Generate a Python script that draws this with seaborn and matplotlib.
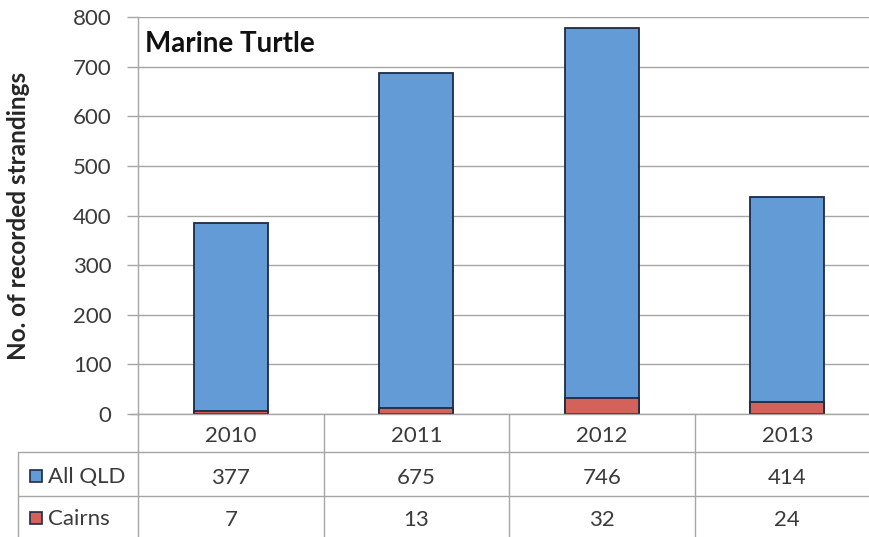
import matplotlib
matplotlib.use("Agg")
import matplotlib.pyplot as plt
import matplotlib.transforms as mtransforms
from matplotlib.patches import Rectangle
import seaborn as sns
import pandas as pd

# Stranding records per year
years = ["2010", "2011", "2012", "2013"]
all_qld = [377, 675, 746, 414]
cairns = [7, 13, 32, 24]
series_names = ["All QLD", "Cairns"]
yticks = [0, 100, 200, 300, 400, 500, 600, 700, 800]

BLUE = "#639bd6"
RED = "#d3625b"
EDGE = "#1e2b45"
GRID = "#a6a6a6"
TEXT = "#3a3a3a"

sns.set_theme(style="white")
plt.rcParams["font.family"] = ["Lato", "DejaVu Sans"]

W, H = 869, 537
fig = plt.figure(figsize=(W / 100, H / 100), dpi=100)

# axes geometry in pixels (plot extends past the right edge)
x0, y_top, y_zero, col_w = 138, 17, 414, 185.5
ax = fig.add_axes([x0 / W, 1 - y_zero / H, 4 * col_w / W, (y_zero - y_top) / H])

df = pd.DataFrame({"year": years, "qld": all_qld, "cairns": cairns})
df["total"] = df["qld"] + df["cairns"]

# stacked look: total in blue, Cairns portion over it in red
sns.barplot(data=df, x="year", y="total", color=BLUE, width=0.4,
            edgecolor=EDGE, linewidth=1.3, saturation=1, ax=ax, zorder=3)
sns.barplot(data=df, x="year", y="cairns", color=RED, width=0.4,
            edgecolor=EDGE, linewidth=1.3, saturation=1, ax=ax, zorder=4)

ax.set_xlim(-0.5, 3.5)
ax.set_ylim(0, 800)
ax.set_yticks(yticks)
ax.set_yticklabels([str(v) for v in yticks], fontsize=16, color=TEXT)
ax.tick_params(axis="y", length=8, width=1, color=GRID, pad=11, left=True)
ax.tick_params(axis="x", bottom=False, labelbottom=False)
ax.set_xlabel("")
ax.set_ylabel("No. of recorded strandings", fontsize=17.5, fontweight="bold",
              color="#262626")
ax.yaxis.set_label_coords(-(x0 - 30) / (4 * col_w), 0.5)

ax.grid(axis="y", color=GRID, linewidth=1, zorder=0)
ax.set_axisbelow(True)
for side in ["top", "right", "bottom"]:
    ax.spines[side].set_visible(False)
ax.spines["left"].set_color(GRID)
ax.spines["left"].set_linewidth(1)

ax.text(145 / W, 1 - 44 / H, "Marine Turtle", transform=fig.transFigure,
        fontsize=20, fontweight="bold", color="#111111", va="center", ha="left")

# data table below the plot
ftr = fig.transFigure
def fy(p):
    return 1 - p / H

line_kw = dict(color=GRID, linewidth=1, transform=ftr, clip_on=False)
# horizontal rules
fig.add_artist(plt.Line2D([130 / W, 1], [fy(414), fy(414)], **line_kw))
fig.add_artist(plt.Line2D([18 / W, 1], [fy(452), fy(452)], **line_kw))
fig.add_artist(plt.Line2D([18 / W, 1], [fy(496), fy(496)], **line_kw))
# vertical rules
for i in range(4):
    xp = x0 + i * col_w
    fig.add_artist(plt.Line2D([xp / W, xp / W], [fy(414), 0], **line_kw))
fig.add_artist(plt.Line2D([18 / W, 18 / W], [fy(452), 0], **line_kw))

blend = mtransforms.blended_transform_factory(ax.transData, ftr)
for i, yr in enumerate(years):
    ax.text(i, fy(436), yr, transform=blend, ha="center", va="center",
            fontsize=16, color=TEXT)
    ax.text(i, fy(478), str(all_qld[i]), transform=blend, ha="center",
            va="center", fontsize=16, color=TEXT)
    ax.text(i, fy(520), str(cairns[i]), transform=blend, ha="center",
            va="center", fontsize=16, color=TEXT)

# row headers with legend keys
for name, col, yp in [(series_names[0], BLUE, 476), (series_names[1], RED, 518)]:
    fig.add_artist(Rectangle((30 / W, fy(yp + 6)), 12 / W, 12 / H,
                             transform=ftr, facecolor=col, edgecolor=EDGE,
                             linewidth=1.2))
    fig.text(48 / W, fy(yp + 1), name, fontsize=16, color=TEXT,
             ha="left", va="center")

fig.savefig("out.png", dpi=100)
